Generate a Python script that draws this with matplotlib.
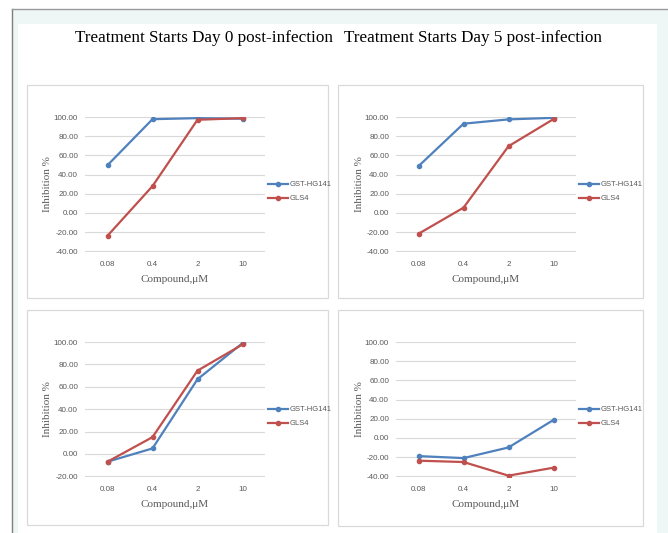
import numpy as np
import matplotlib
matplotlib.use("Agg")
import matplotlib.pyplot as plt
from matplotlib.patches import Rectangle
from matplotlib.lines import Line2D

W, H = 668, 533

# data
doses = ["0.08", "0.4", "2", "10"]
series_names = ["GST-HG141", "GLS4"]
titles = ["Treatment Starts Day 0 post-infection", "Treatment Starts Day 5 post-infection"]

# top row: treatment given at day 0 / day 5 (first set)
gst_tl = [49.8, 97.8, 98.9, 98.3]
gls4_tl = [-23.8, 28.0, 97.2, 98.9]
gst_tr = [48.8, 93.1, 97.6, 99.2]
gls4_tr = [-21.7, 5.5, 69.6, 97.9]
# bottom row (second set)
gst_bl = [-7.0, 4.9, 66.8, 99.1]
gls4_bl = [-7.0, 15.0, 74.5, 97.9]
gst_br = [-18.9, -21.0, -9.9, 18.8]
gls4_br = [-23.7, -25.1, -39.3, -31.0]

ylims_tl = (-40, 100)
ylims_tr = (-40, 100)
ylims_bl = (-20, 100)
ylims_br = (-40, 100)

BLUE = "#4f81bd"
RED = "#c0504d"
GRID = "#d9d9d9"
TXT = "#595959"


def fx(x):
    return x / W


def fy(y):
    return 1 - y / H


def rect(x0, y0, x1, y1):
    # pixel box -> figure fraction [left, bottom, width, height]
    return [fx(x0), fy(y1), (x1 - x0) / W, (y1 - y0) / H]


fig = plt.figure(figsize=(W / 100, H / 100), dpi=100)
fig.patch.set_facecolor("white")

# page background / frame
fig.patches.append(Rectangle((fx(12), 0), 1 - fx(12), fy(9), transform=fig.transFigure,
                             facecolor="#eef7f5", edgecolor="none", zorder=-3))
fig.patches.append(Rectangle((fx(18), 0), fx(657) - fx(18), fy(24), transform=fig.transFigure,
                             facecolor="white", edgecolor="none", zorder=-2))
fig.lines.append(Line2D([fx(12), fx(12)], [0, fy(9)], transform=fig.transFigure, color="#7f7f7f", lw=1.0, zorder=-2))
fig.lines.append(Line2D([fx(12), 1], [fy(9), fy(9)], transform=fig.transFigure, color="#9a9a9a", lw=1.0, zorder=-2))

fig.text(fx(204), fy(38), titles[0], family="Liberation Serif", fontsize=12.3,
         ha="center", va="center", color="black")
fig.text(fx(473), fy(38), titles[1], family="Liberation Serif", fontsize=12.3,
         ha="center", va="center", color="black")

panels = [
    ((27, 85, 328, 298), (85, 116.7, 265, 251.7), gst_tl, gls4_tl, ylims_tl),
    ((338, 85, 643, 298), (396, 116.7, 576, 251.7), gst_tr, gls4_tr, ylims_tr),
    ((27, 310, 328, 525), (85, 341.7, 265, 476.7), gst_bl, gls4_bl, ylims_bl),
    ((338, 310, 643, 526), (396, 341.7, 576, 476.7), gst_br, gls4_br, ylims_br),
]

for box, area, gst, gls4, ylim in panels:
    fig.patches.append(Rectangle((fx(box[0]), fy(box[3])), (box[2] - box[0]) / W, (box[3] - box[1]) / H,
                                 transform=fig.transFigure, facecolor="white",
                                 edgecolor="#d9d9d9", lw=0.9, zorder=-1))
    ax = fig.add_axes(rect(*area))
    ax.set_facecolor("none")
    x = np.arange(len(doses))
    ax.plot(x, gst, color=BLUE, lw=1.6, marker="o", ms=3, label=series_names[0], zorder=3)
    ax.plot(x, gls4, color=RED, lw=1.6, marker="o", ms=3, label=series_names[1], zorder=3)
    ax.set_xlim(-0.5, 3.5)
    ax.set_ylim(ylim[0] - 0.4, ylim[1] + 0.4)
    ax.set_yticks(np.arange(ylim[0], ylim[1] + 1, 20))
    ax.set_yticklabels(["%.2f" % v for v in np.arange(ylim[0], ylim[1] + 1, 20)])
    ax.set_xticks(x)
    ax.set_xticklabels(doses)
    ax.tick_params(length=0, labelsize=5.8, labelcolor=TXT, pad=5)
    ax.tick_params(axis="x", pad=7)
    for lab in ax.get_xticklabels() + ax.get_yticklabels():
        lab.set_family("Liberation Sans")
    ax.grid(axis="y", color=GRID, lw=0.8)
    ax.set_axisbelow(True)
    for s in ax.spines.values():
        s.set_visible(False)

    fig.text(fx(area[0] - 37), fy((area[1] + area[3]) / 2), "Inhibition %", rotation=90,
             family="Liberation Serif", fontsize=8, color=TXT, ha="center", va="center")
    fig.text(fx((area[0] + area[2]) / 2), fy(area[3] + 28), "Compound,\u03bcM",
             family="Liberation Serif", fontsize=8, color=TXT, ha="center", va="center")

    leg = ax.legend(loc="center left", bbox_to_anchor=(fx(area[2] - 1), fy(area[1] + 75)),
                    bbox_transform=fig.transFigure, frameon=False, fontsize=5.5,
                    handlelength=2.6, handletextpad=0.2, labelspacing=0.9, borderpad=0)
    for t in leg.get_texts():
        t.set_color(TXT)
        t.set_family("Liberation Sans")

fig.savefig("out.png", dpi=100)
